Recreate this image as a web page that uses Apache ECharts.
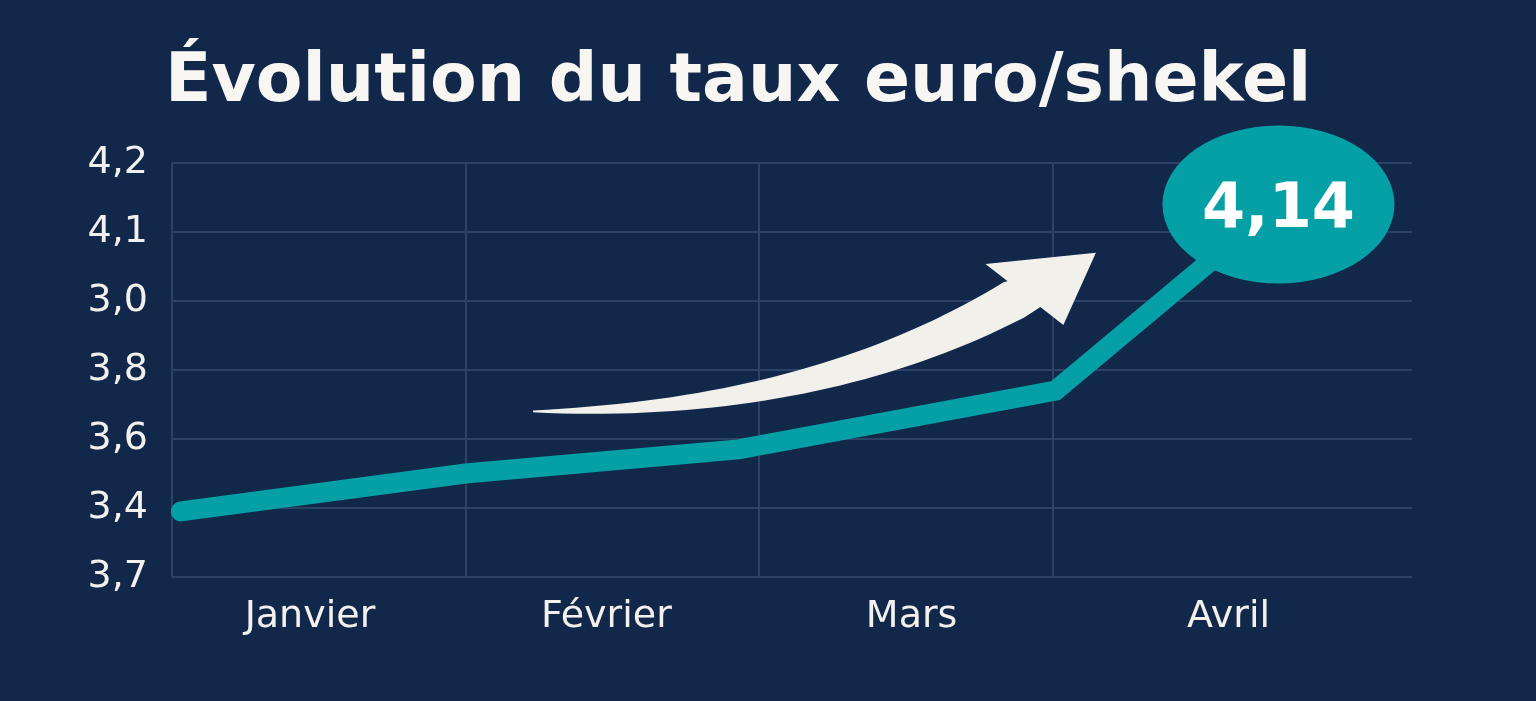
<!DOCTYPE html>
<html>
<head>
<meta charset="utf-8">
<script src="https://cdn.jsdelivr.net/npm/echarts@6/dist/echarts.min.js"></script>
<style>
html,body{margin:0;padding:0;background:#11284a;}
#main{width:1536px;height:701px;}
</style>
</head>
<body>
<div id="main"></div>
<script>
// ---- data ----
const titleText = 'Évolution du taux euro/shekel';
const months = ['Janvier', 'Février', 'Mars', 'Avril'];
const monthLabelPos = [0.47, 1.48, 2.52, 3.6];
const monthGridPos = [0, 1, 2, 3];
const yTickValues = [3.2, 3.4, 3.6, 3.8, 4.0, 4.1, 4.2];
const yTickLabels = ['3,7', '3,4', '3,6', '3,8', '3,0', '4,1', '4,2'];
const rateX = [0.03, 1.0, 1.93, 3.01, 3.77];
const rateValues = [3.39, 3.50, 3.57, 3.74, 4.14];
// decorative trend arrow: tail, control, neck, tip (x in month units, y in rate)
const arrowX = [1.23, 2.215, 2.903, 3.148];
const arrowY = [3.68, 3.68, 4.01, 4.07];

// piecewise scale from rate value to tick-slot position
function toPos(v) {
  for (let i = 0; i < yTickValues.length - 1; i++) {
    const a = yTickValues[i], b = yTickValues[i + 1];
    if (v <= b || i === yTickValues.length - 2) {
      return i + (v - a) / (b - a);
    }
  }
}

const teal = '#04a0a6';
const gridColor = '#2c4266';
const lastIdx = rateValues.length - 1;

const lineData = rateValues.map((v, i) => {
  const item = { value: [rateX[i], toPos(v)] };
  if (i === lastIdx) {
    item.symbol = 'circle';
    item.symbolSize = [232, 158];
    item.itemStyle = { color: teal };
    item.label = {
      show: true,
      position: 'inside',
      formatter: () => v.toFixed(2).replace('.', ','),
      color: '#ffffff',
      fontFamily: 'DejaVu Sans',
      fontWeight: 'bold',
      fontSize: 62,
      offset: [0, 6]
    };
  }
  return item;
});

const arrowData = [[
  arrowX[0], toPos(arrowY[0]), arrowX[1], toPos(arrowY[1]),
  arrowX[2], toPos(arrowY[2]), arrowX[3], toPos(arrowY[3])
]];

function renderArrow(params, api) {
  const p0 = api.coord([api.value(0), api.value(1)]);
  const c = api.coord([api.value(2), api.value(3)]);
  const p2 = api.coord([api.value(4), api.value(5)]);
  const tip = api.coord([api.value(6), api.value(7)]);
  const maxW = 40;
  const upper = [], lower = [];
  const N = 40;
  let dx = tip[0] - p2[0], dy = tip[1] - p2[1];
  const L = Math.hypot(dx, dy);
  dx /= L; dy /= L;
  // skewed head base axis (normal rotated by -22deg)
  const nx0 = dy, ny0 = -dx;
  const th = -22 * Math.PI / 180;
  const ex = nx0 * Math.cos(th) - ny0 * Math.sin(th);
  const ey = nx0 * Math.sin(th) + ny0 * Math.cos(th);
  for (let k = 0; k <= N; k++) {
    const t = k / N;
    const mt = 1 - t;
    const x = mt * mt * p0[0] + 2 * mt * t * c[0] + t * t * p2[0];
    const y = mt * mt * p0[1] + 2 * mt * t * c[1] + t * t * p2[1];
    let tx = 2 * mt * (c[0] - p0[0]) + 2 * t * (p2[0] - c[0]);
    let ty = 2 * mt * (c[1] - p0[1]) + 2 * t * (p2[1] - c[1]);
    const len = Math.hypot(tx, ty) || 1;
    tx /= len; ty /= len;
    let nx = ty, ny = -tx;
    if (k === N) { nx = ex; ny = ey; }
    const w = maxW * Math.pow(t, 0.85) / 2 + 0.8;
    upper.push([x + nx * w, y + ny * w]);
    lower.push([x - nx * w, y - ny * w]);
  }
  const barbU = [p2[0] + ex * 49, p2[1] + ey * 49];
  const barbL = [p2[0] - ex * 50, p2[1] - ey * 50];
  const pts = upper.concat([barbU, tip, barbL]).concat(lower.reverse());
  return {
    type: 'polygon',
    shape: { points: pts },
    style: { fill: '#f1f0eb' }
  };
}

const chart = echarts.init(document.getElementById('main'));
chart.setOption({
  backgroundColor: '#11284a',
  animation: false,
  title: {
    text: titleText,
    left: 160,
    top: 44,
    textStyle: {
      color: '#f7f6f2',
      fontFamily: 'DejaVu Sans',
      fontWeight: 'bold',
      fontSize: 68
    }
  },
  grid: { left: 172, right: 124, top: 163, bottom: 124 },
  xAxis: {
    type: 'value',
    min: 0,
    max: 4.225,
    axisLine: { show: false },
    axisTick: { show: false, customValues: monthGridPos },
    splitLine: { show: true, lineStyle: { color: gridColor, width: 2 } },
    axisLabel: {
      customValues: monthLabelPos,
      formatter: (val) => months[monthLabelPos.indexOf(val)] || '',
      color: '#f2f1ed',
      fontFamily: 'DejaVu Sans',
      fontSize: 38,
      margin: 21
    }
  },
  yAxis: {
    type: 'value',
    min: 0,
    max: 6,
    interval: 1,
    axisLine: { show: false },
    axisTick: { show: false },
    splitLine: { show: true, lineStyle: { color: gridColor, width: 2 } },
    axisLabel: {
      formatter: (val) => yTickLabels[Math.round(val)] || '',
      color: '#f2f1ed',
      fontFamily: 'DejaVu Sans',
      fontSize: 38,
      margin: 24,
      padding: [12, 0, 0, 0]
    }
  },
  series: [
    {
      type: 'custom',
      renderItem: renderArrow,
      data: arrowData,
      encode: { x: [0, 2, 4, 6], y: [1, 3, 5, 7] },
      clip: false,
      z: 3
    },
    {
      type: 'line',
      data: lineData,
      symbol: 'none',
      showSymbol: true,
      lineStyle: { color: teal, width: 20, cap: 'round', join: 'miter' },
      itemStyle: { color: teal },
      z: 4
    }
  ]
});
</script>
</body>
</html>
